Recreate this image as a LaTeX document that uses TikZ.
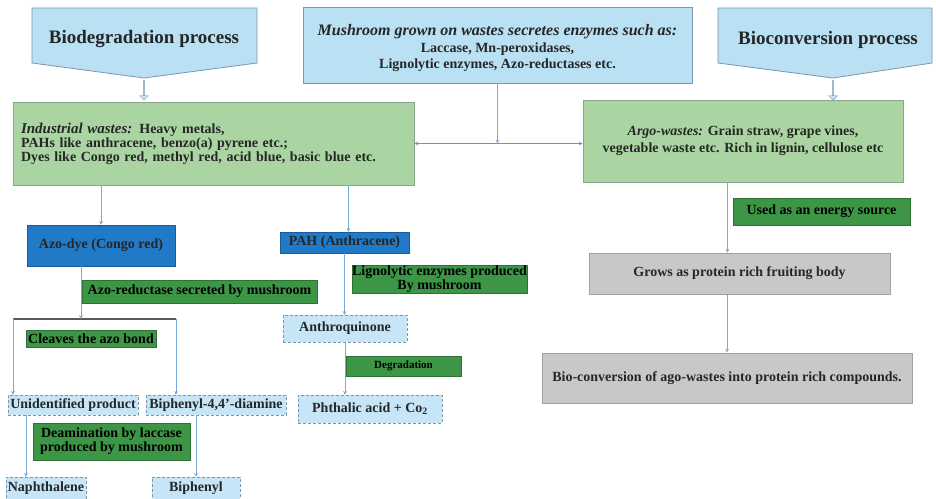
\documentclass[tikz,border=0pt]{standalone}
\usepackage{fontspec}
\setmainfont{Liberation Serif}
\usetikzlibrary{shapes.arrows}
\definecolor{skyfill}{RGB}{185,224,243}
\definecolor{skyline}{RGB}{125,150,175}
\definecolor{paleblue}{RGB}{198,229,246}
\definecolor{palegreen}{RGB}{170,213,162}
\definecolor{greenline}{RGB}{140,165,140}
\definecolor{notegreen}{RGB}{60,150,70}
\definecolor{deepblue}{RGB}{32,122,200}
\definecolor{greyfill}{RGB}{200,200,200}
\definecolor{greyline}{RGB}{160,160,160}
\definecolor{linkblue}{RGB}{120,170,215}

\begin{document}
\begin{tikzpicture}[x=1pt,y=-1pt,
  font=\fontsize{14}{14}\selectfont\bfseries,
  every node/.style={text=black!85, inner sep=0pt},
  head/.style={fill=skyfill, draw=skyline, line width=0.8pt},
  wastebox/.style={fill=palegreen, draw=greenline, line width=0.8pt},
  stepnote/.style={fill=notegreen, draw=notegreen!75!black, text=black},
  cmpd/.style={fill=deepblue, draw=deepblue!75!black},
  prod/.style={fill=paleblue, draw=skyline, densely dashed},
  greybox/.style={fill=greyfill, draw=greyline, line width=0.8pt},
  link/.style={draw=linkblue, ->, >=stealth, line width=0.7pt},
  hollow/.style={single arrow, draw=skyline, fill=paleblue, shape border rotate=270,
    minimum width=9pt, minimum height=20pt, single arrow head extend=2pt}]
\useasboundingbox (0,0) rectangle (936,498);

\draw[head] (32,8) -- (257,8) -- (257,63) -- (144,78) -- (32,63) -- cycle;
\node (degtitle) at (144,39) {\fontsize{19}{19}\selectfont Biodegradation process};
\draw[head] (718,8) -- (932,8) -- (932,63) -- (833,78) -- (718,63) -- cycle;
\node (convtitle) at (828,40) {\fontsize{19}{19}\selectfont Bioconversion process};
\node[hollow] (degarrow) at (144,90) {};
\node[hollow] (convarrow) at (833,90) {};

\node[head, minimum width=389pt, minimum height=76pt, align=center,
  font=\fontsize{14}{16.5}\selectfont\bfseries] (mush) at (497.5,45)
  {{\fontsize{16}{16}\selectfont\itshape\rule{0pt}{18pt}Mushroom grown on wastes secretes enzymes such as:}\\
   Laccase, Mn-peroxidases,\\ Lignolytic enzymes, Azo-reductases etc.};
\node[wastebox, minimum width=401pt, minimum height=83pt, text width=385pt, align=left] (ind) at (213.5,143.5)
  {{\itshape\fontsize{15}{15}\selectfont Industrial wastes:} Heavy metals,\\
   PAHs like anthracene, benzo(a) pyrene etc.;\\
   Dyes like Congo red, methyl red, acid blue, basic blue etc.};
\node[wastebox, minimum width=320pt, minimum height=82pt, align=center,
  font=\fontsize{14}{17}\selectfont\bfseries] (argo) at (743,141)
  {{\itshape Argo-wastes:} Grain straw, grape vines,\\ vegetable waste etc. Rich in lignin, cellulose etc};

\node[cmpd, minimum width=148pt, minimum height=41pt] (azo) at (101,245.5) {Azo-dye (Congo red)};
\node[cmpd, minimum width=129pt, minimum height=21pt] (pah) at (344.5,242.5) {PAH (Anthracene)};
\node[stepnote, minimum width=235pt, minimum height=23pt] (azored) at (199.5,291.5) {Azo-reductase secreted by mushroom};
\node[stepnote, minimum width=130pt, minimum height=17pt] (cleave) at (91,338.5) {Cleaves the azo bond};
\node[prod, minimum width=130pt, minimum height=20pt] (unid) at (73,405) {Unidentified product};
\node[prod, minimum width=140pt, minimum height=20pt] (bpd) at (216,405) {Biphenyl-4,4’-diamine};
\node[stepnote, minimum width=157pt, minimum height=37pt, align=center] (deam) at (111.5,441.5)
  {Deamination by laccase\\ produced by mushroom};
\node[prod, minimum width=80pt, minimum height=22pt] (naph) at (46,488) {Naphthalene};
\node[prod, minimum width=88pt, minimum height=22pt] (biph) at (196,488) {Biphenyl};
\node[stepnote, minimum width=175pt, minimum height=28pt, align=center] (lign) at (439.5,279)
  {Lignolytic enzymes produced\\ By mushroom};
\node[prod, minimum width=124pt, minimum height=27pt] (anth) at (345,328.5) {Anthroquinone};
\node[stepnote, minimum width=115pt, minimum height=20pt, font=\fontsize{11}{11}\selectfont\bfseries] (degr) at (403.5,366) {Degradation};
\node[prod, minimum width=144pt, minimum height=28pt] (phth) at (370,409) {Phthalic acid + Co\textsubscript{2}};
\node[stepnote, minimum width=177pt, minimum height=27pt] (energy) at (821.5,211.5) {Used as an energy source};
\node[greybox, minimum width=301pt, minimum height=41pt] (grows) at (739.5,273.5) {Grows as protein rich fruiting body};
\node[greybox, minimum width=370pt, minimum height=50pt] (bioconv) at (727,378)
  {Bio-conversion of ago-wastes into protein rich compounds.};

\coordinate (barl) at (13,319);
\coordinate (barr) at (176,319);
\draw[black!65, line width=1.6pt] (barl) -- (barr);

\draw[link] (mush.south) -- (mush.south |- ind.east);
\draw[link, <->, draw=black!45] (ind.east) -- (ind.east -| argo.west);
\draw[link] (azo.north |- ind.south) -- (azo.north);
\draw[link] ([xshift=4pt]pah.north |- ind.south) -- ([xshift=4pt]pah.north);
\draw[link] ([xshift=-20pt]azo.south) -- ([xshift=-20pt]azo.south |- barl);
\draw[link] (barl) -- (barl |- unid.north);
\draw[link] (barr) -- (barr |- bpd.north);
\draw[link] ([xshift=-47pt]unid.south) -- ([xshift=-47pt]unid.south |- naph.north);
\draw[link] (biph.north |- bpd.south) -- (biph.north);
\draw[link] (pah.south) -- (pah.south |- anth.north);
\draw[link] (anth.south) -- (anth.south |- phth.north);
\draw[link] ([xshift=-12pt]grows.north |- argo.south) -- ([xshift=-12pt]grows.north);
\draw[link] (bioconv.north |- grows.south) -- (bioconv.north);
\end{tikzpicture}
\end{document}
